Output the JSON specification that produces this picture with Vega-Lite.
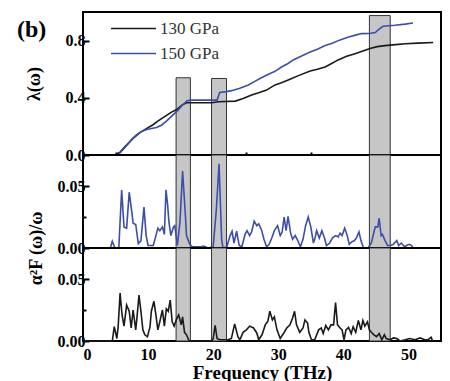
{
  "$schema": "https://vega.github.io/schema/vega-lite/v6.json",
  "padding": {"left": 16, "top": 11, "right": 0, "bottom": 0},
  "bounds": "flush",
  "spacing": 0,
  "config": {
    "view": {"stroke": "black", "strokeWidth": 2},
    "font": "Liberation Serif",
    "style": {"guide-label": {"font": "Liberation Serif"}, "guide-title": {"font": "Liberation Serif"}, "group-title": {"font": "Liberation Serif"}},
    "axis": {"grid": false, "domain": false, "labelFont": "Liberation Serif", "labelFontWeight": "bold", "labelFontSize": 16, "labelColor": "black", "tickColor": "black", "tickWidth": 2, "titleFont": "Liberation Serif", "titleColor": "black", "titleFontWeight": "bold", "titleFontSize": 18},
    "legend": {"labelFont": "Liberation Serif"}
  },
  "datasets": {
    "bands": [
      {"x1": 14.3, "x2": 16.5, "top": 0.54},
      {"x1": 19.75, "x2": 22.05, "top": 0.535},
      {"x1": 44.0, "x2": 47.2, "top": 0.975}
    ],
    "lam": [
      {"f": 0, "lam": 0, "p": "130 GPa"}, {"f": 4.9, "lam": 0, "p": "130 GPa"}, {"f": 5.7, "lam": 0.02, "p": "130 GPa"}, {"f": 6.5, "lam": 0.06, "p": "130 GPa"}, {"f": 7.7, "lam": 0.116, "p": "130 GPa"}, {"f": 8.7, "lam": 0.155, "p": "130 GPa"}, {"f": 9.8, "lam": 0.186, "p": "130 GPa"}, {"f": 10.7, "lam": 0.21, "p": "130 GPa"}, {"f": 11.6, "lam": 0.24, "p": "130 GPa"}, {"f": 12.6, "lam": 0.27, "p": "130 GPa"}, {"f": 13.6, "lam": 0.3, "p": "130 GPa"}, {"f": 14.4, "lam": 0.318, "p": "130 GPa"}, {"f": 15.2, "lam": 0.349, "p": "130 GPa"}, {"f": 15.9, "lam": 0.365, "p": "130 GPa"}, {"f": 19.8, "lam": 0.365, "p": "130 GPa"}, {"f": 20.8, "lam": 0.372, "p": "130 GPa"}, {"f": 23.4, "lam": 0.377, "p": "130 GPa"}, {"f": 24.6, "lam": 0.395, "p": "130 GPa"}, {"f": 25.9, "lam": 0.419, "p": "130 GPa"}, {"f": 27.0, "lam": 0.435, "p": "130 GPa"}, {"f": 28.2, "lam": 0.454, "p": "130 GPa"}, {"f": 29.5, "lam": 0.49, "p": "130 GPa"}, {"f": 30.5, "lam": 0.505, "p": "130 GPa"}, {"f": 31.8, "lam": 0.53, "p": "130 GPa"}, {"f": 33.1, "lam": 0.555, "p": "130 GPa"}, {"f": 34.9, "lam": 0.588, "p": "130 GPa"}, {"f": 36.0, "lam": 0.6, "p": "130 GPa"}, {"f": 37.2, "lam": 0.616, "p": "130 GPa"}, {"f": 38.2, "lam": 0.64, "p": "130 GPa"}, {"f": 39.2, "lam": 0.665, "p": "130 GPa"}, {"f": 40.5, "lam": 0.69, "p": "130 GPa"}, {"f": 41.8, "lam": 0.708, "p": "130 GPa"}, {"f": 43.0, "lam": 0.728, "p": "130 GPa"}, {"f": 44.1, "lam": 0.745, "p": "130 GPa"}, {"f": 45.2, "lam": 0.758, "p": "130 GPa"}, {"f": 46.4, "lam": 0.765, "p": "130 GPa"}, {"f": 48.0, "lam": 0.772, "p": "130 GPa"}, {"f": 49.5, "lam": 0.778, "p": "130 GPa"}, {"f": 51.5, "lam": 0.782, "p": "130 GPa"}, {"f": 53.8, "lam": 0.787, "p": "130 GPa"},
      {"f": 0, "lam": 0, "p": "150 GPa"}, {"f": 5.4, "lam": 0, "p": "150 GPa"}, {"f": 6.2, "lam": 0.04, "p": "150 GPa"}, {"f": 7.0, "lam": 0.082, "p": "150 GPa"}, {"f": 7.5, "lam": 0.11, "p": "150 GPa"}, {"f": 8.2, "lam": 0.14, "p": "150 GPa"}, {"f": 9.0, "lam": 0.165, "p": "150 GPa"}, {"f": 9.8, "lam": 0.178, "p": "150 GPa"}, {"f": 10.5, "lam": 0.185, "p": "150 GPa"}, {"f": 11.3, "lam": 0.192, "p": "150 GPa"}, {"f": 12.1, "lam": 0.21, "p": "150 GPa"}, {"f": 12.9, "lam": 0.24, "p": "150 GPa"}, {"f": 13.6, "lam": 0.27, "p": "150 GPa"}, {"f": 14.6, "lam": 0.314, "p": "150 GPa"}, {"f": 15.3, "lam": 0.35, "p": "150 GPa"}, {"f": 16.0, "lam": 0.38, "p": "150 GPa"}, {"f": 16.5, "lam": 0.384, "p": "150 GPa"}, {"f": 20.6, "lam": 0.384, "p": "150 GPa"}, {"f": 21.0, "lam": 0.437, "p": "150 GPa"}, {"f": 22.0, "lam": 0.443, "p": "150 GPa"}, {"f": 22.8, "lam": 0.45, "p": "150 GPa"}, {"f": 24.0, "lam": 0.465, "p": "150 GPa"}, {"f": 25.4, "lam": 0.49, "p": "150 GPa"}, {"f": 26.4, "lam": 0.515, "p": "150 GPa"}, {"f": 27.4, "lam": 0.54, "p": "150 GPa"}, {"f": 28.5, "lam": 0.565, "p": "150 GPa"}, {"f": 29.5, "lam": 0.585, "p": "150 GPa"}, {"f": 30.5, "lam": 0.615, "p": "150 GPa"}, {"f": 31.5, "lam": 0.64, "p": "150 GPa"}, {"f": 32.3, "lam": 0.665, "p": "150 GPa"}, {"f": 33.5, "lam": 0.69, "p": "150 GPa"}, {"f": 34.9, "lam": 0.72, "p": "150 GPa"}, {"f": 36.0, "lam": 0.74, "p": "150 GPa"}, {"f": 37.2, "lam": 0.765, "p": "150 GPa"}, {"f": 38.2, "lam": 0.78, "p": "150 GPa"}, {"f": 39.5, "lam": 0.805, "p": "150 GPa"}, {"f": 40.8, "lam": 0.825, "p": "150 GPa"}, {"f": 42.0, "lam": 0.84, "p": "150 GPa"}, {"f": 42.8, "lam": 0.849, "p": "150 GPa"}, {"f": 44.0, "lam": 0.85, "p": "150 GPa"}, {"f": 44.9, "lam": 0.856, "p": "150 GPa"}, {"f": 45.5, "lam": 0.88, "p": "150 GPa"}, {"f": 46.1, "lam": 0.9, "p": "150 GPa"}, {"f": 47.9, "lam": 0.907, "p": "150 GPa"}, {"f": 49.5, "lam": 0.915, "p": "150 GPa"}, {"f": 50.7, "lam": 0.923, "p": "150 GPa"}
    ],
    "a150": [
      {"f": 0, "v": 0}, {"f": 4.2, "v": 0}, {"f": 4.5, "v": 0.0054}, {"f": 4.9, "v": 0}, {"f": 5.5, "v": 0}, {"f": 5.94, "v": 0.0467}, {"f": 6.3, "v": 0.017}, {"f": 6.7, "v": 0.016}, {"f": 7.1, "v": 0.045}, {"f": 7.5, "v": 0.029}, {"f": 7.7, "v": 0.02}, {"f": 8.1, "v": 0.019}, {"f": 8.5, "v": 0.0036}, {"f": 8.9, "v": 0.006}, {"f": 9.37, "v": 0.033}, {"f": 9.7, "v": 0.01}, {"f": 10.0, "v": 0.002}, {"f": 10.8, "v": 0.002}, {"f": 11.2, "v": 0.01}, {"f": 11.5, "v": 0.016}, {"f": 11.8, "v": 0.014}, {"f": 12.2, "v": 0.017}, {"f": 12.5, "v": 0.011}, {"f": 12.75, "v": 0.047}, {"f": 13.0, "v": 0.035}, {"f": 13.2, "v": 0.021}, {"f": 13.5, "v": 0.01}, {"f": 13.9, "v": 0.017}, {"f": 14.1, "v": 0.018}, {"f": 14.5, "v": 0.002}, {"f": 14.9, "v": 0.021}, {"f": 15.3, "v": 0.062}, {"f": 15.7, "v": 0.029}, {"f": 15.9, "v": 0.01}, {"f": 16.4, "v": 0.003}, {"f": 16.8, "v": 0.001}, {"f": 18.2, "v": 0.001}, {"f": 18.5, "v": 0.0015}, {"f": 18.8, "v": 0.001}, {"f": 19.2, "v": 0}, {"f": 20.0, "v": 0.001}, {"f": 20.5, "v": 0.032}, {"f": 20.9, "v": 0.068}, {"f": 21.3, "v": 0.007}, {"f": 21.5, "v": 0}, {"f": 22.1, "v": 0.001}, {"f": 22.6, "v": 0.01}, {"f": 22.9, "v": 0.0135}, {"f": 23.2, "v": 0.004}, {"f": 23.6, "v": 0.0135}, {"f": 24.0, "v": 0.002}, {"f": 24.4, "v": 0.001}, {"f": 24.9, "v": 0.011}, {"f": 25.2, "v": 0.014}, {"f": 25.6, "v": 0.01}, {"f": 25.9, "v": 0.013}, {"f": 26.3, "v": 0.0216}, {"f": 26.7, "v": 0.018}, {"f": 27.0, "v": 0.0195}, {"f": 27.4, "v": 0.015}, {"f": 27.8, "v": 0.007}, {"f": 28.2, "v": 0.001}, {"f": 28.6, "v": 0.003}, {"f": 29.0, "v": 0.008}, {"f": 29.4, "v": 0.014}, {"f": 29.9, "v": 0.018}, {"f": 30.3, "v": 0.01}, {"f": 30.6, "v": 0.013}, {"f": 30.9, "v": 0.025}, {"f": 31.2, "v": 0.014}, {"f": 31.5, "v": 0.0255}, {"f": 31.9, "v": 0.012}, {"f": 32.2, "v": 0.007}, {"f": 32.6, "v": 0.01}, {"f": 33.0, "v": 0.006}, {"f": 33.4, "v": 0.001}, {"f": 33.8, "v": 0.007}, {"f": 34.2, "v": 0.018}, {"f": 34.6, "v": 0.025}, {"f": 35.0, "v": 0.017}, {"f": 35.4, "v": 0.004}, {"f": 35.6, "v": 0.007}, {"f": 35.9, "v": 0.014}, {"f": 36.3, "v": 0.008}, {"f": 36.7, "v": 0.014}, {"f": 37.1, "v": 0.008}, {"f": 37.4, "v": 0.002}, {"f": 37.9, "v": 0.004}, {"f": 38.3, "v": 0.008}, {"f": 38.8, "v": 0.01}, {"f": 39.2, "v": 0.009}, {"f": 39.5, "v": 0.012}, {"f": 39.8, "v": 0.01}, {"f": 40.2, "v": 0.016}, {"f": 40.6, "v": 0.01}, {"f": 40.9, "v": 0.003}, {"f": 41.3, "v": 0.005}, {"f": 41.7, "v": 0.006}, {"f": 42.0, "v": 0.008}, {"f": 42.4, "v": 0.013}, {"f": 42.7, "v": 0.006}, {"f": 43.1, "v": 0}, {"f": 43.8, "v": 0}, {"f": 44.3, "v": 0.004}, {"f": 44.9, "v": 0.017}, {"f": 45.3, "v": 0.017}, {"f": 45.5, "v": 0.024}, {"f": 45.8, "v": 0.01}, {"f": 46.0, "v": 0.011}, {"f": 46.4, "v": 0.006}, {"f": 46.8, "v": 0.002}, {"f": 47.2, "v": 0.002}, {"f": 47.7, "v": 0.003}, {"f": 48.2, "v": 0.006}, {"f": 48.5, "v": 0.002}, {"f": 48.9, "v": 0.004}, {"f": 49.4, "v": 0.001}, {"f": 49.7, "v": 0.002}, {"f": 50.1, "v": 0.003}, {"f": 50.5, "v": 0.002}, {"f": 50.7, "v": 0}
    ],
    "a130": [
      {"f": 0, "v": 0}, {"f": 4.5, "v": 0}, {"f": 4.8, "v": 0.0116}, {"f": 5.2, "v": 0.002}, {"f": 5.4, "v": 0.0116}, {"f": 5.7, "v": 0.0386}, {"f": 6.0, "v": 0.021}, {"f": 6.3, "v": 0.012}, {"f": 6.7, "v": 0.029}, {"f": 7.1, "v": 0.024}, {"f": 7.4, "v": 0.0105}, {"f": 7.7, "v": 0.025}, {"f": 8.1, "v": 0.009}, {"f": 8.3, "v": 0.0195}, {"f": 8.6, "v": 0.037}, {"f": 8.9, "v": 0.024}, {"f": 9.2, "v": 0.009}, {"f": 9.5, "v": 0.005}, {"f": 9.9, "v": 0.0035}, {"f": 10.3, "v": 0.0116}, {"f": 10.5, "v": 0.024}, {"f": 10.9, "v": 0.032}, {"f": 11.2, "v": 0.021}, {"f": 11.5, "v": 0.009}, {"f": 11.8, "v": 0.0155}, {"f": 12.2, "v": 0.025}, {"f": 12.5, "v": 0.012}, {"f": 12.8, "v": 0.026}, {"f": 13.1, "v": 0.024}, {"f": 13.4, "v": 0.033}, {"f": 13.7, "v": 0.0155}, {"f": 14.0, "v": 0.012}, {"f": 14.4, "v": 0.018}, {"f": 14.7, "v": 0.021}, {"f": 15.1, "v": 0.013}, {"f": 15.3, "v": 0.0195}, {"f": 15.6, "v": 0.007}, {"f": 15.9, "v": 0.005}, {"f": 16.3, "v": 0}, {"f": 19.8, "v": 0}, {"f": 20.0, "v": 0.002}, {"f": 20.3, "v": 0.0126}, {"f": 20.6, "v": 0.002}, {"f": 21.0, "v": 0.001}, {"f": 22.3, "v": 0.001}, {"f": 22.8, "v": 0.002}, {"f": 23.3, "v": 0.0138}, {"f": 23.8, "v": 0.0035}, {"f": 24.1, "v": 0.001}, {"f": 24.6, "v": 0.007}, {"f": 25.1, "v": 0.009}, {"f": 25.6, "v": 0.012}, {"f": 26.2, "v": 0.0105}, {"f": 26.7, "v": 0.0065}, {"f": 27.0, "v": 0.001}, {"f": 27.5, "v": 0.005}, {"f": 28.0, "v": 0.013}, {"f": 28.4, "v": 0.016}, {"f": 28.7, "v": 0.024}, {"f": 29.1, "v": 0.017}, {"f": 29.4, "v": 0.0195}, {"f": 29.8, "v": 0.009}, {"f": 30.3, "v": 0.002}, {"f": 30.8, "v": 0.006}, {"f": 31.3, "v": 0.0105}, {"f": 31.8, "v": 0.013}, {"f": 32.2, "v": 0.0185}, {"f": 32.5, "v": 0.024}, {"f": 32.8, "v": 0.013}, {"f": 33.3, "v": 0.007}, {"f": 33.8, "v": 0.0105}, {"f": 34.1, "v": 0.017}, {"f": 34.5, "v": 0.0145}, {"f": 34.7, "v": 0.007}, {"f": 35.1, "v": 0.001}, {"f": 35.6, "v": 0.001}, {"f": 36.2, "v": 0.009}, {"f": 36.6, "v": 0.0105}, {"f": 36.9, "v": 0.006}, {"f": 37.3, "v": 0.0125}, {"f": 37.7, "v": 0.009}, {"f": 38.1, "v": 0.013}, {"f": 38.5, "v": 0.013}, {"f": 38.8, "v": 0.031}, {"f": 39.1, "v": 0.013}, {"f": 39.5, "v": 0.0105}, {"f": 39.8, "v": 0.009}, {"f": 40.1, "v": 0.001}, {"f": 40.4, "v": 0.009}, {"f": 40.8, "v": 0.011}, {"f": 41.2, "v": 0.006}, {"f": 41.5, "v": 0.0115}, {"f": 41.9, "v": 0.007}, {"f": 42.3, "v": 0.0165}, {"f": 42.7, "v": 0.009}, {"f": 43.0, "v": 0.0165}, {"f": 43.3, "v": 0.012}, {"f": 43.7, "v": 0.0155}, {"f": 44.0, "v": 0.009}, {"f": 44.3, "v": 0.007}, {"f": 44.7, "v": 0.005}, {"f": 45.1, "v": 0.0035}, {"f": 45.5, "v": 0.006}, {"f": 45.9, "v": 0.001}, {"f": 46.3, "v": 0.005}, {"f": 46.6, "v": 0.002}, {"f": 47.2, "v": 0.001}, {"f": 47.7, "v": 0.0025}, {"f": 48.2, "v": 0.002}, {"f": 48.7, "v": 0}, {"f": 49.5, "v": 0.001}, {"f": 50.2, "v": 0.002}, {"f": 51.0, "v": 0.001}, {"f": 51.8, "v": 0.0025}, {"f": 52.5, "v": 0.001}, {"f": 53.0, "v": 0.001}, {"f": 53.5, "v": 0.003}, {"f": 53.7, "v": 0}
    ]
  },
  "vconcat": [
    {
      "width": 358, "height": 143,
      "title": {"text": "(b)", "anchor": "start", "frame": "group", "fontSize": 24, "fontWeight": "bold", "font": "Liberation Serif", "color": "black", "dx": -66, "dy": 30, "offset": 0},
      "layer": [
        {
          "data": {"name": "bands"},
          "mark": {"type": "rect", "fill": "#c6c6c6", "stroke": "#333333", "strokeWidth": 1},
          "encoding": {
            "x": {"field": "x1", "type": "quantitative", "scale": {"domain": [0, 55], "nice": false},
                  "axis": {"values": [5, 10, 15, 20, 25, 30, 35, 40, 45, 50], "labels": false, "title": null,
                           "tickSize": {"condition": {"test": "datum.value % 10 == 0", "value": -6}, "value": -3}}},
            "x2": {"field": "x2"},
            "y": {"field": "top", "type": "quantitative", "scale": {"domain": [0, 1], "nice": false},
                  "axis": {"values": [0, 0.2, 0.4, 0.6, 0.8], "title": "λ(ω)", "titleX": -40,
                           "labelFont": "Liberation Serif", "titleFont": "Liberation Serif",
                           "labelExpr": "datum.value == 0.2 || datum.value == 0.6 ? '' : format(datum.value, '.1f')",
                           "labelPadding": 4,
                           "tickSize": {"condition": {"test": "datum.value == 0.2 || datum.value == 0.6", "value": -3}, "value": -6}}},
            "y2": {"datum": 0}
          }
        },
        {
          "data": {"name": "lam"},
          "mark": {"type": "line", "strokeWidth": 1.6},
          "encoding": {
            "x": {"field": "f", "type": "quantitative"},
            "y": {"field": "lam", "type": "quantitative"},
            "color": {"field": "p", "type": "nominal",
                      "scale": {"domain": ["130 GPa", "150 GPa"], "range": ["#1a1a1a", "#3d4dab"]},
                      "legend": {"title": null, "orient": "none", "legendX": 27, "legendY": 4, "symbolType": "stroke", "symbolSize": 2025, "symbolStrokeWidth": 1.5, "clipHeight": 25, "labelFont": "Liberation Serif", "labelFontSize": 17, "labelColor": "#333333", "labelOffset": 3, "rowPadding": 0}}
          }
        }
      ]
    },
    {
      "width": 358, "height": 93,
      "layer": [
        {
          "data": {"name": "bands"},
          "mark": {"type": "rect", "fill": "#c6c6c6", "stroke": "#333333", "strokeWidth": 1},
          "encoding": {
            "x": {"field": "x1", "type": "quantitative", "scale": {"domain": [0, 55], "nice": false}, "axis": null},
            "x2": {"field": "x2"},
            "y": {"datum": 0.075, "type": "quantitative", "scale": {"domain": [0, 0.075], "nice": false},
                  "axis": {"values": [0, 0.025, 0.05], "title": "α²F (ω)/ω", "titleX": -38, "titleY": 93,
                           "labelFont": "Liberation Serif", "titleFont": "Liberation Serif",
                           "labelExpr": "datum.value == 0.025 ? '' : format(datum.value, '.2f')",
                           "labelPadding": 4,
                           "tickSize": {"condition": {"test": "datum.value == 0.025", "value": -3}, "value": -6}}},
            "y2": {"datum": 0}
          }
        },
        {
          "data": {"name": "a150"},
          "mark": {"type": "line", "strokeWidth": 1.6, "color": "#3d4dab"},
          "encoding": {
            "x": {"field": "f", "type": "quantitative"},
            "y": {"field": "v", "type": "quantitative"}
          }
        }
      ]
    },
    {
      "width": 358, "height": 93,
      "layer": [
        {
          "data": {"name": "bands"},
          "mark": {"type": "rect", "fill": "#c6c6c6", "stroke": "#333333", "strokeWidth": 1},
          "encoding": {
            "x": {"field": "x1", "type": "quantitative", "scale": {"domain": [0, 55], "nice": false},
                  "axis": {"values": [0, 10, 20, 30, 40, 50], "title": "Frequency (THz)", "titleFontSize": 19, "labelFontSize": 16, "ticks": false, "labelPadding": 5, "titlePadding": 1,
                           "labelFont": "Liberation Serif", "titleFont": "Liberation Serif"}},
            "x2": {"field": "x2"},
            "y": {"datum": 0.075, "type": "quantitative", "scale": {"domain": [0, 0.075], "nice": false},
                  "axis": {"values": [0, 0.025, 0.05], "title": null,
                           "labelFont": "Liberation Serif",
                           "labelExpr": "datum.value == 0.025 ? '' : format(datum.value, '.2f')",
                           "labelPadding": 4,
                           "tickSize": {"condition": {"test": "datum.value == 0.025", "value": -3}, "value": -6}}},
            "y2": {"datum": 0}
          }
        },
        {
          "data": {"name": "a130"},
          "mark": {"type": "line", "strokeWidth": 1.6, "color": "#1a1a1a"},
          "encoding": {
            "x": {"field": "f", "type": "quantitative"},
            "y": {"field": "v", "type": "quantitative"}
          }
        }
      ]
    }
  ]
}
